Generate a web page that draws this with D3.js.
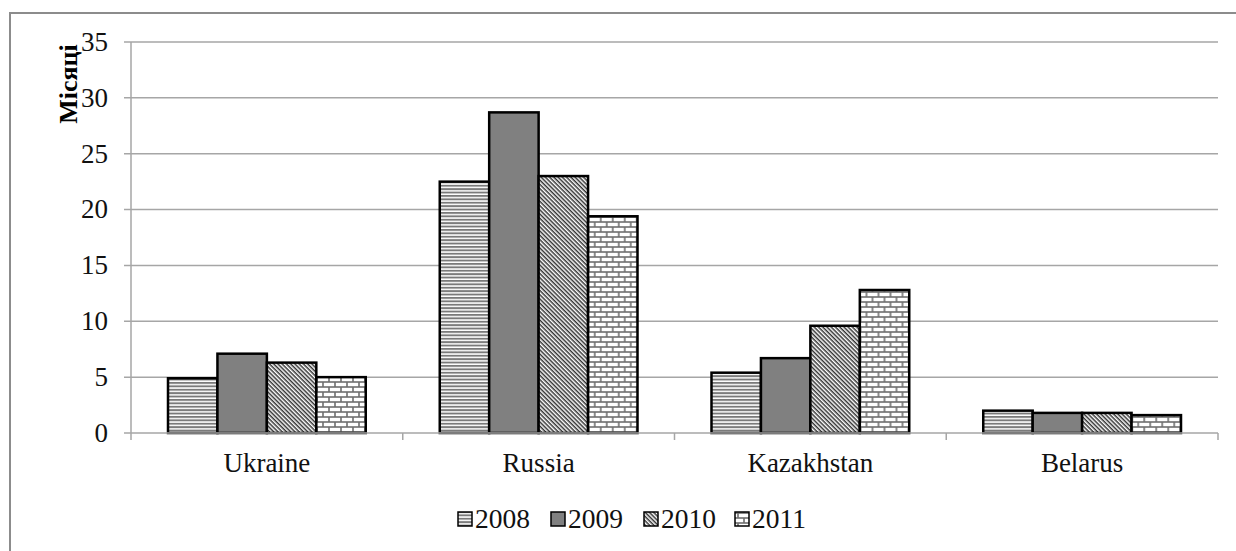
<!DOCTYPE html>
<meta charset="utf-8">
<script src="https://d3js.org/d3.v7.min.js"></script>
<head>
  <style>
  body { margin: 0; background: #fff; }
  </style>
</head>
<html><body>
<div id="chart"></div>
<script>

// data
const countries = ["Ukraine", "Russia", "Kazakhstan", "Belarus"];
const years = ["2008", "2009", "2010", "2011"];
const v2008 = [4.9, 22.5, 5.4, 2.0];
const v2009 = [7.1, 28.7, 6.7, 1.8];
const v2010 = [6.3, 23.0, 9.6, 1.8];
const v2011 = [5.0, 19.4, 12.8, 1.6];
const yTicks = [0, 5, 10, 15, 20, 25, 30, 35];
const yTitle = "Місяці";

const series = [v2008, v2009, v2010, v2011];
const serif = "'Liberation Serif', 'Times New Roman', serif";

const W = 1236, H = 551;
const margin = {top: 42, right: 18, bottom: 118, left: 131},
    width = W - margin.left - margin.right,
    height = H - margin.top - margin.bottom;

const svg = d3.select("#chart").append("svg")
    .attr("width", W).attr("height", H)
    .style("font-family", serif);

// patterns for the four years
const defs = svg.append("defs");
const p0 = defs.append("pattern").attr("id", "pat0")
  .attr("patternUnits", "userSpaceOnUse").attr("width", 6).attr("height", 3.4);
p0.append("rect").attr("width", 6).attr("height", 3.4).attr("fill", "#fff");
p0.append("rect").attr("width", 6).attr("height", 1.9).attr("fill", "#7a7a7a");

const p2 = defs.append("pattern").attr("id", "pat2")
  .attr("patternUnits", "userSpaceOnUse").attr("width", 3).attr("height", 3)
  .attr("patternTransform", "rotate(45)");
p2.append("rect").attr("width", 3).attr("height", 3).attr("fill", "#fff");
p2.append("rect").attr("width", 3).attr("height", 1.5).attr("fill", "#333");

const p3 = defs.append("pattern").attr("id", "pat3")
  .attr("patternUnits", "userSpaceOnUse").attr("width", 12).attr("height", 10);
p3.append("rect").attr("width", 12).attr("height", 10).attr("fill", "#6e6e6e");
p3.append("rect").attr("x", 0.8).attr("y", 0.8).attr("width", 10.4).attr("height", 3.4).attr("fill", "#fff");
p3.append("rect").attr("x", -5.2).attr("y", 5.8).attr("width", 10.4).attr("height", 3.4).attr("fill", "#fff");
p3.append("rect").attr("x", 6.8).attr("y", 5.8).attr("width", 10.4).attr("height", 3.4).attr("fill", "#fff");

const fills = ["url(#pat0)", "#808080", "url(#pat2)", "url(#pat3)"];

// outer frame
svg.append("rect")
  .attr("x", 10).attr("y", 13).attr("width", W + 20).attr("height", H + 20)
  .attr("fill", "none").attr("stroke", "#8c8c8c").attr("stroke-width", 2);

const g = svg.append("g").attr("transform", `translate(${margin.left},${margin.top})`);

const x = d3.scaleBand().domain(countries).range([0, width]).paddingInner(0).paddingOuter(0);
const xs = d3.scaleBand().domain(years).range([37, x.bandwidth() - 37]);
const y = d3.scaleLinear().domain([0, 35]).range([height, 0]);

// gridlines
g.selectAll(".grid").data(yTicks.filter(d => d > 0)).join("line")
  .attr("x1", -7).attr("x2", width)
  .attr("y1", d => y(d)).attr("y2", d => y(d))
  .attr("stroke", "#a6a6a6").attr("stroke-width", 1.5);

// y axis
g.append("line").attr("x1", 0).attr("x2", 0).attr("y1", 0).attr("y2", height + 7)
  .attr("stroke", "#a6a6a6").attr("stroke-width", 1.5);
g.selectAll(".ylab").data(yTicks).join("text")
  .attr("x", -23).attr("y", d => y(d)).attr("dy", "0.33em")
  .attr("text-anchor", "end").attr("font-size", 27).attr("fill", "#111")
  .text(d => d);

// bars
countries.forEach((c, i) => {
  const gc = g.append("g").attr("transform", `translate(${x(c)},0)`);
  gc.selectAll("rect").data(years).join("rect")
    .attr("x", d => xs(d)).attr("width", xs.bandwidth())
    .attr("y", (d, j) => y(series[j][i]))
    .attr("height", (d, j) => height - y(series[j][i]))
    .attr("fill", (d, j) => fills[j])
    .attr("stroke", "#000").attr("stroke-width", 2.5);
});

// x axis
g.append("line").attr("x1", -7).attr("x2", width).attr("y1", height).attr("y2", height)
  .attr("stroke", "#a6a6a6").attr("stroke-width", 1.5);
g.selectAll(".xtick").data(countries).join("line")
  .attr("x1", d => x(d) + x.bandwidth()).attr("x2", d => x(d) + x.bandwidth())
  .attr("y1", height).attr("y2", height + 7)
  .attr("stroke", "#a6a6a6").attr("stroke-width", 1.5);
g.selectAll(".xlab").data(countries).join("text")
  .attr("x", d => x(d) + x.bandwidth() / 2).attr("y", height + 39)
  .attr("text-anchor", "middle").attr("font-size", 27).attr("fill", "#111")
  .text(d => d);

// y title
svg.append("text")
  .attr("transform", "translate(77,84) rotate(-90)")
  .attr("text-anchor", "middle").attr("font-size", 26).attr("font-weight", "bold")
  .text(yTitle);

// legend
const legX = [458, 551, 644, 735];
const leg = svg.append("g").attr("transform", "translate(0,528)");
years.forEach((yr, j) => {
  leg.append("rect").attr("x", legX[j]).attr("y", -16).attr("width", 14).attr("height", 14)
    .attr("fill", fills[j]).attr("stroke", "#000").attr("stroke-width", 1.5);
  leg.append("text").attr("x", legX[j] + 17).attr("y", 0)
    .attr("font-size", 27.5).attr("fill", "#111").text(yr);
});

</script>
</body></html>
